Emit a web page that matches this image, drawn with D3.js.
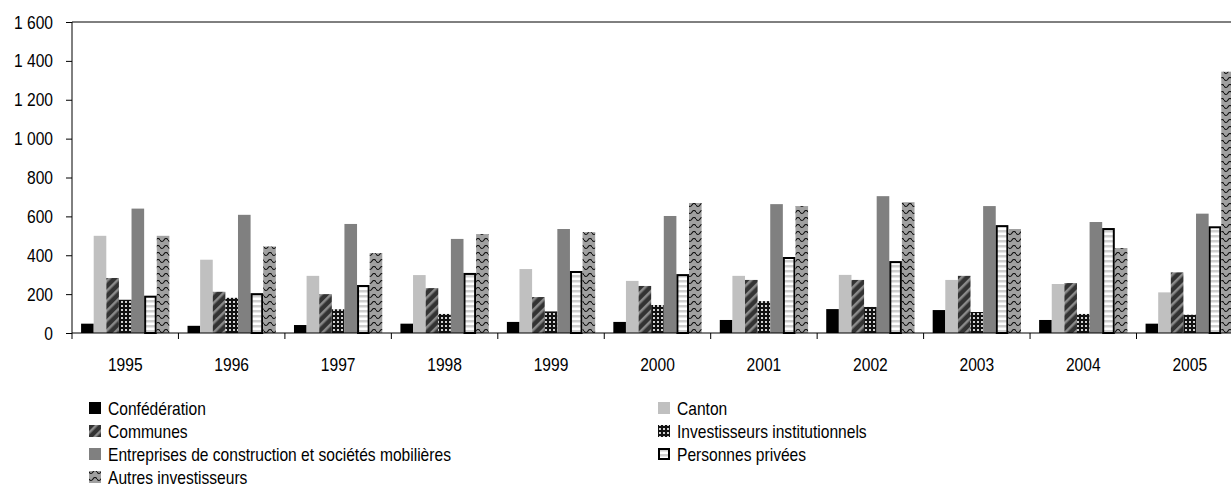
<!DOCTYPE html>
<html>
<head>
<meta charset="utf-8">
<script src="https://cdn.jsdelivr.net/npm/d3@7"></script>
<style>
  body { margin: 0; background: #fff; }
  svg text { font-family: "Liberation Sans Narrow", "Arial Narrow", "Liberation Sans", sans-serif; fill: #000; }
</style>
</head>
<body>
<svg id="chart"></svg>
<script>
let years = ["1995", "1996", "1997", "1998", "1999", "2000", "2001", "2002", "2003", "2004", "2005"];
let seriesNames = ["Confédération", "Canton", "Communes", "Investisseurs institutionnels",
    "Entreprises de construction et sociétés mobilières", "Personnes privées", "Autres investisseurs"];
let confederation = [48, 37, 41, 48, 57, 57, 67, 123, 118, 67, 48];
let canton = [500, 377, 294, 298, 329, 268, 294, 299, 273, 252, 209];
let communes = [283, 212, 200, 231, 185, 242, 273, 273, 294, 257, 312];
let institutionnels = [171, 181, 122, 98, 111, 144, 164, 134, 108, 98, 94];
let entreprises = [640, 608, 561, 484, 535, 602, 663, 704, 653, 571, 614];
let privees = [192, 205, 247, 309, 319, 303, 391, 370, 555, 540, 549];
let autres = [500, 445, 411, 509, 519, 669, 653, 673, 535, 437, 1344];
let yTicks = [0, 200, 400, 600, 800, 1000, 1200, 1400, 1600];

let seriesValues = [confederation, canton, communes, institutionnels, entreprises, privees, autres];
let fills = ["#000", "#c0c0c0", "url(#pCommunes)", "url(#pInst)", "#808080", "url(#pPrivees)", "url(#pAutres)"];

let width = 1231, height = 504;
let left = 72, bandW = 106.45;
let fontSize = 19;

let svg = d3.select("#chart").attr("width", width).attr("height", height);

// patterns
let defs = svg.append("defs");
let pc = defs.append("pattern").attr("id", "pCommunes").attr("patternUnits", "userSpaceOnUse")
    .attr("width", 7).attr("height", 7).attr("patternTransform", "rotate(45)");
pc.append("rect").attr("width", 7).attr("height", 7).attr("fill", "#333");
pc.append("rect").attr("width", 2.5).attr("height", 7).attr("fill", "#8a8a8a");

let pi = defs.append("pattern").attr("id", "pInst").attr("patternUnits", "userSpaceOnUse")
    .attr("width", 4).attr("height", 4);
pi.append("rect").attr("width", 4).attr("height", 4).attr("fill", "#111");
pi.append("rect").attr("x", 1).attr("y", 1).attr("width", 2).attr("height", 2).attr("fill", "#d0d0d0");

let pp = defs.append("pattern").attr("id", "pPrivees").attr("patternUnits", "userSpaceOnUse")
    .attr("width", 4).attr("height", 5);
pp.append("rect").attr("width", 4).attr("height", 5).attr("fill", "#fff");
pp.append("rect").attr("y", 0).attr("width", 4).attr("height", 2.5).attr("fill", "#cfcfcf");

let pa = defs.append("pattern").attr("id", "pAutres").attr("patternUnits", "userSpaceOnUse")
    .attr("width", 8).attr("height", 7);
pa.append("rect").attr("width", 8).attr("height", 7).attr("fill", "#a0a0a0");
pa.append("path").attr("d", "M0,2 Q2,5 4,2 Q6,-1 8,2").attr("fill", "none")
    .attr("stroke", "#111").attr("stroke-width", 1.2);

// scales
let x = d3.scaleBand().domain(years).range([left, left + bandW * years.length]).padding(0);
let xs = d3.scaleBand().domain(d3.range(seriesNames.length)).range([0, x.bandwidth()])
    .paddingInner(0).paddingOuter(0.72);
let y = d3.scaleLinear().domain([0, 1600]).range([333, 22]);

let locale = d3.formatLocale({decimal: ",", thousands: " ", grouping: [3], currency: ["", ""]});
let fmt = locale.format(",d");

// top border line
svg.append("line")
    .attr("x1", left).attr("x2", width)
    .attr("y1", y(1600)).attr("y2", y(1600))
    .attr("stroke", "#000").attr("stroke-width", 1);

// bars
seriesValues.forEach(function(vals, s) {
    svg.append("g").selectAll("rect")
        .data(vals)
        .enter().append("rect")
        .attr("x", (d, i) => x(years[i]) + xs(s) + (s === 5 ? 1 : 0))
        .attr("y", d => y(d) + (s === 5 ? 1 : 0))
        .attr("width", xs.bandwidth() - (s === 5 ? 2 : 0))
        .attr("height", d => y(0) - y(d) - (s === 5 ? 1 : 0))
        .attr("fill", fills[s])
        .attr("stroke", s === 5 ? "#000" : "none")
        .attr("stroke-width", s === 5 ? 2 : 0);
});

// y axis
let yAxis = svg.append("g")
    .attr("transform", "translate(" + left + ",0)")
    .call(d3.axisLeft(y).tickValues(yTicks).tickFormat(fmt).tickSize(6).tickPadding(13));
yAxis.select(".domain").attr("d", "M-0," + y(1600) + "V" + y(0));
yAxis.selectAll("text").style("font-size", fontSize + "px");

// x axis
let xAxis = svg.append("g")
    .attr("transform", "translate(0," + y(0) + ")")
    .call(d3.axisBottom(x).tickSize(0).tickPadding(25));
xAxis.select(".domain").attr("d", "M" + left + ",0H" + width);
xAxis.selectAll("text").style("font-size", fontSize + "px");
svg.append("g").selectAll("line")
    .data(years.concat(["end"]))
    .enter().append("line")
    .attr("x1", (d, i) => i < years.length ? x(d) : x(years[i - 1]) + x.bandwidth())
    .attr("x2", (d, i) => i < years.length ? x(d) : x(years[i - 1]) + x.bandwidth())
    .attr("y1", y(0)).attr("y2", y(0) + 6)
    .attr("stroke", "#000");

// legend
let legendCols = [89, 658];
let legendRows = [408, 431, 454, 477];
let legend = svg.append("g").selectAll("g")
    .data(seriesNames)
    .enter().append("g")
    .attr("transform", (d, i) => "translate(" + legendCols[i % 2] + "," + legendRows[Math.floor(i / 2)] + ")");
legend.append("rect")
    .attr("x", (d, i) => i === 5 ? 1 : 0)
    .attr("y", (d, i) => i === 5 ? -5 : -6)
    .attr("width", (d, i) => i === 5 ? 10 : 12)
    .attr("height", (d, i) => i === 5 ? 10 : 12)
    .attr("fill", (d, i) => fills[i])
    .attr("stroke", (d, i) => i === 5 ? "#000" : "none")
    .attr("stroke-width", 2);
legend.append("text")
    .attr("x", 19)
    .attr("dy", "0.35em")
    .style("font-size", fontSize + "px")
    .text(d => d);

// narrow font is not installed: squeeze the regular one to an Arial Narrow width
svg.selectAll("text").each(function() {
    let w = this.getComputedTextLength();
    d3.select(this).attr("textLength", w * 0.82).attr("lengthAdjust", "spacingAndGlyphs");
});
</script>
</body>
</html>
